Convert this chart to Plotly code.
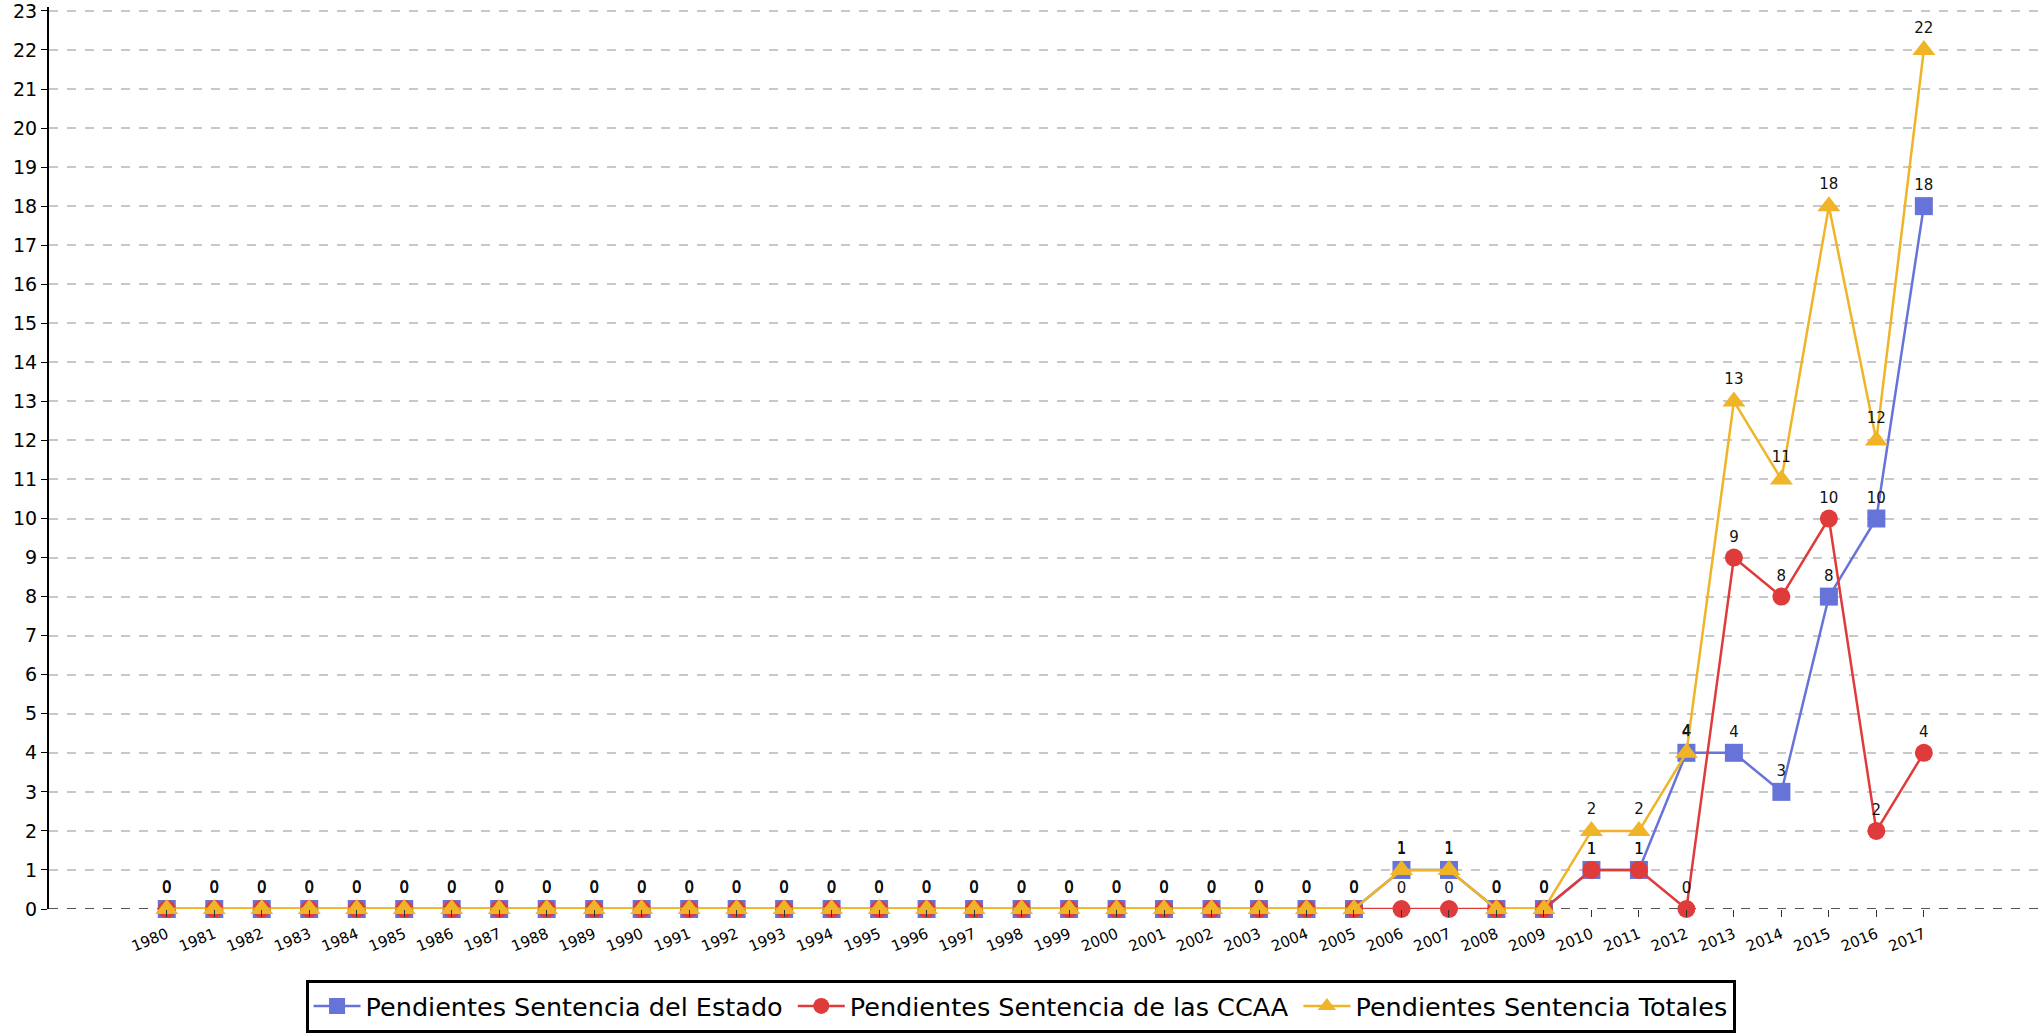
import plotly.graph_objects as go

years = list(range(1980, 2018))
estado = [0]*26 + [1, 1, 0, 0, 1, 1, 4, 4, 3, 8, 10, 18]
ccaa = [0]*26 + [0, 0, 0, 0, 1, 1, 0, 9, 8, 10, 2, 4]
totales = [0]*26 + [1, 1, 0, 0, 2, 2, 4, 13, 11, 18, 12, 22]

names = ["Pendientes Sentencia del Estado\u2009", "Pendientes Sentencia de las CCAA\u2009", "Pendientes Sentencia Totales"]
colors = ["#6673d9", "#e03b3b", "#f0b428"]
symbols = ["square", "circle", "triangle-up"]
sizes = [18, 18, 20]

fig = go.Figure()
for vals, name, col, sym, sz in zip([estado, ccaa, totales], names, colors, symbols, sizes):
    fig.add_trace(go.Scatter(
        x=years, y=vals, name=name, mode="lines+markers+text",
        line=dict(color=col, width=2.5),
        marker=dict(color=col, symbol=sym, size=sz),
        text=[str(v) for v in vals], textposition="top center",
        textfont=dict(family="DejaVu Sans", size=15, color="#111"),
        cliponaxis=False,
    ))

fig.add_shape(type="line", xref="paper", yref="y", x0=0, x1=1, y0=0, y1=0,
              line=dict(color="#555", width=2, dash="dash"), layer="below")

fig.update_layout(
    width=2044, height=1033,
    margin=dict(l=49, r=0, t=7, b=124, autoexpand=False),
    plot_bgcolor="white", paper_bgcolor="white",
    font=dict(family="DejaVu Sans", color="#000"),
    showlegend=True,
    legend=dict(orientation="h", x=0.487, xanchor="center", y=-0.0785, yanchor="top",
                bordercolor="#000", borderwidth=3, bgcolor="white",
                font=dict(size=25.5, family="DejaVu Sans"), itemwidth=47),
    xaxis=dict(range=[1977.52, 2019.53], tickmode="array", tickvals=years,
               ticktext=[str(y) for y in years], tickangle=-22, automargin=False,
               ticklabelstandoff=3,
               tickfont=dict(size=15), ticks="outside", ticklen=7, tickcolor="#333",
               showgrid=False, zeroline=False, showline=False),
    yaxis=dict(range=[0, 23.1], tickmode="array", tickvals=list(range(0, 24)), automargin=False,
               ticklabeloverflow="allow",
               tickfont=dict(size=19), ticks="outside", ticklen=6, tickcolor="#000",
               showgrid=True, gridcolor="#c8c8c8", gridwidth=1.5, griddash="dash",
               zeroline=False, showline=True, linecolor="#000", linewidth=2),
)

fig.write_html("out.html", config={"displayModeBar": False},
               post_script="document.body.style.margin='0px';")
